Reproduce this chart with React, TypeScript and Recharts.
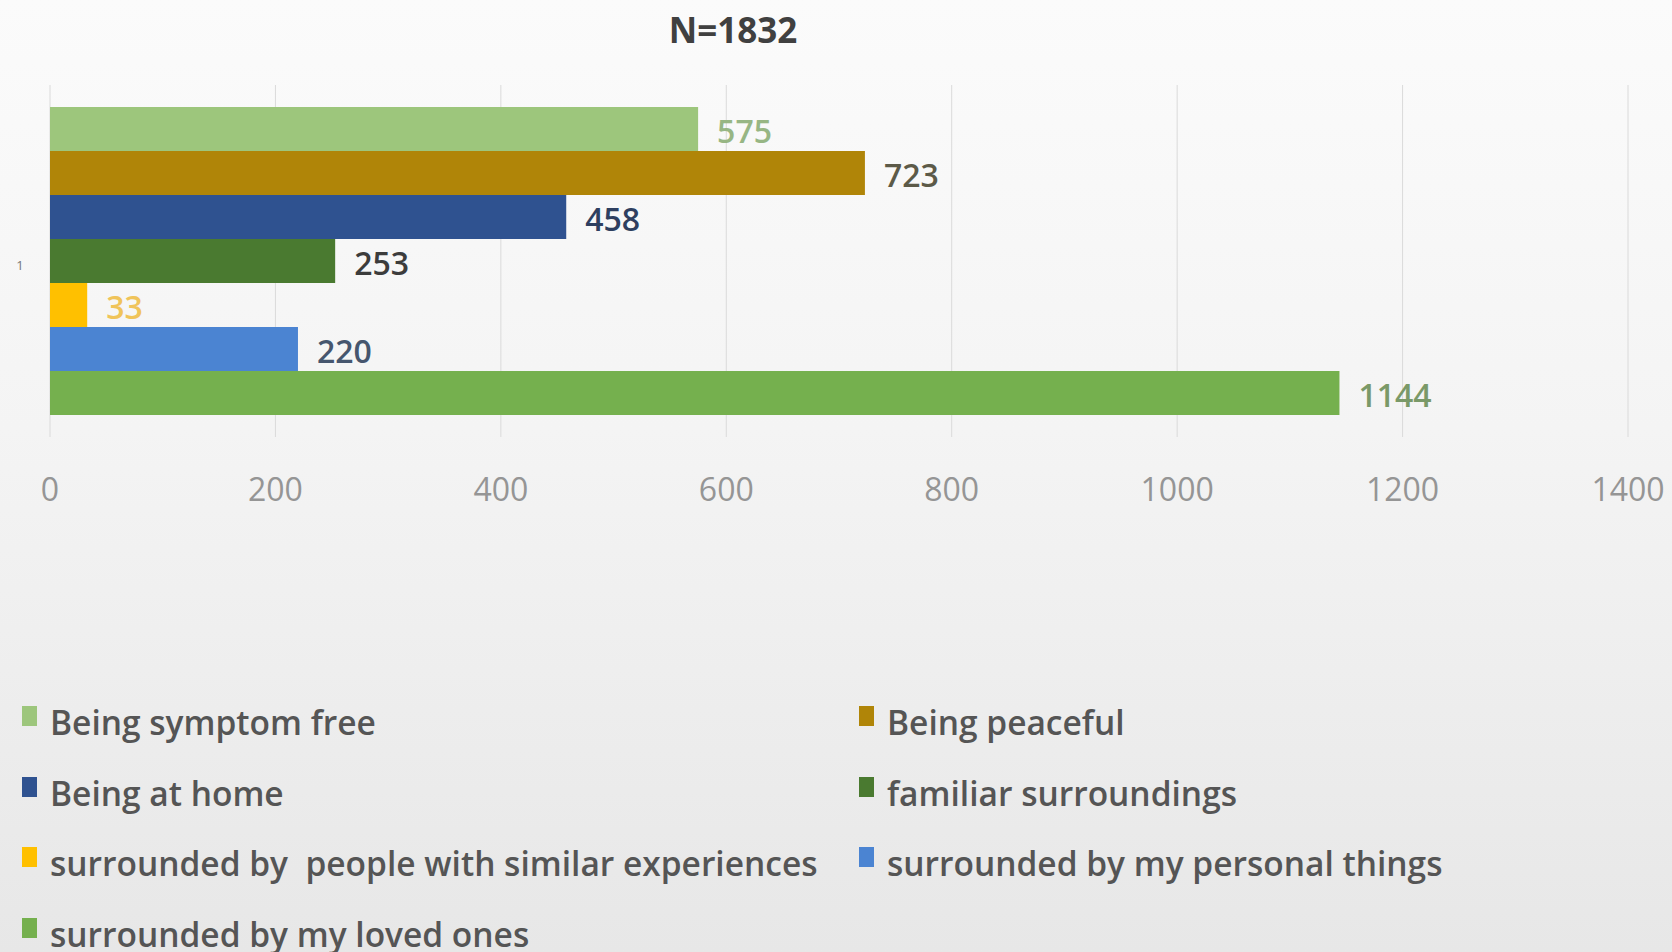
import { BarChart, Bar, XAxis, YAxis, CartesianGrid, Legend, LabelList } from 'recharts'

// one category, seven answers (N=1832)
const categories = ['1']
const seriesNames = [
  'Being symptom free',
  'Being peaceful',
  'Being at home',
  'familiar surroundings',
  'surrounded by  people with similar experiences',
  'surrounded by my personal things',
  'surrounded by my loved ones',
]
const seriesValues = [575, 723, 458, 253, 33, 220, 1144]
const xTicks = [0, 200, 400, 600, 800, 1000, 1200, 1400]

const barColors = ['#9dc67c', '#b08508', '#2f5290', '#4a7a30', '#ffc000', '#4b84d2', '#75b04e']
const labelColors = ['#97b684', '#5c5a48', '#2e3f60', '#3c3c3c', '#f0c45a', '#46566e', '#7a9968']

const FONT = '"Open Sans", "DejaVu Sans", sans-serif'

const data = categories.map((name) => {
  const row: Record<string, string | number> = { name }
  seriesNames.forEach((s, i) => {
    row[s] = seriesValues[i]
  })
  return row
})

function ValueLabel(props: any) {
  const { x, y, width, height, value, index, color } = props
  return (
    <text
      x={x + width + 19}
      y={y + height / 2 + 5}
      fill={color}
      fontSize={32}
      fontWeight={600}
      fontFamily={FONT}
      dominantBaseline="middle"
      key={index}
    >
      {value}
    </text>
  )
}

function LegendBlock({ payload }: any) {
  // keep the series order, not the alphabetical one
  const items = [...(payload || [])].sort(
    (a: any, b: any) => seriesNames.indexOf(a.value) - seriesNames.indexOf(b.value),
  )
  return (
    <div style={{ position: 'relative', width: 1672, height: 270, fontFamily: FONT }}>
      {items.map((p: any, i: number) => {
        const col = i % 2
        const row = Math.floor(i / 2)
        const left = col === 0 ? 50 : 887
        const top = row * 70.7
        return (
          <div key={p.value} style={{ position: 'absolute', left: left - 28, top, height: 44 }}>
            <span
              style={{
                position: 'absolute',
                left: 0,
                top: 5,
                width: 15,
                height: 20,
                background: p.color,
              }}
            />
            <span
              style={{
                position: 'absolute',
                left: 28,
                top: 0,
                whiteSpace: 'pre',
                fontSize: 33.5,
                fontWeight: 600,
                color: '#555555',
                lineHeight: '42px',
              }}
            >
              {p.value}
            </span>
          </div>
        )
      })}
    </div>
  )
}

export default function App() {
  return (
    <div
      style={{
        position: 'absolute',
        left: 0,
        top: 0,
        width: 1672,
        height: 952,
        background: 'linear-gradient(to bottom, #fbfbfb 0%, #f4f4f4 45%, #e7e7e7 100%)',
        overflow: 'hidden',
      }}
    >
      <div
        style={{
          position: 'absolute',
          left: 0,
          width: 1466,
          top: 6,
          textAlign: 'center',
          fontFamily: FONT,
          fontSize: 35,
          fontWeight: 700,
          color: '#404040',
        }}
      >
        N=1832
      </div>
      <BarChart
        width={1672}
        height={952}
        data={data}
        layout="vertical"
        margin={{ top: 85, right: 44, left: 0, bottom: 435 }}
        barCategoryGap={22}
        barGap={0}
      >
        <CartesianGrid horizontal={false} stroke="#dadada" />
        <XAxis
          type="number"
          domain={[0, 1400]}
          ticks={xTicks}
          axisLine={false}
          tickLine={false}
          tickMargin={35}
          height={80}
          tick={{ fill: '#959595', fontSize: 32, fontFamily: FONT }}
        />
        <YAxis
          type="category"
          dataKey="name"
          width={50}
          axisLine={false}
          tickLine={false}
          tick={({ y, payload }: any) => (
            <text x={20} y={y + 9} fontSize={13} fill="#777" fontFamily={FONT} textAnchor="middle">
              {payload.value}
            </text>
          )}
        />
        <Legend
          layout="horizontal"
          verticalAlign="middle"
          align="center"
          wrapperStyle={{ position: 'absolute', left: 0, top: 701, width: 1672 }}
          content={<LegendBlock />}
        />
        {seriesNames.map((s, i) => (
          <Bar key={s} dataKey={s} fill={barColors[i]} isAnimationActive={false}>
            <LabelList dataKey={s} content={<ValueLabel color={labelColors[i]} />} />
          </Bar>
        ))}
      </BarChart>
    </div>
  )
}
